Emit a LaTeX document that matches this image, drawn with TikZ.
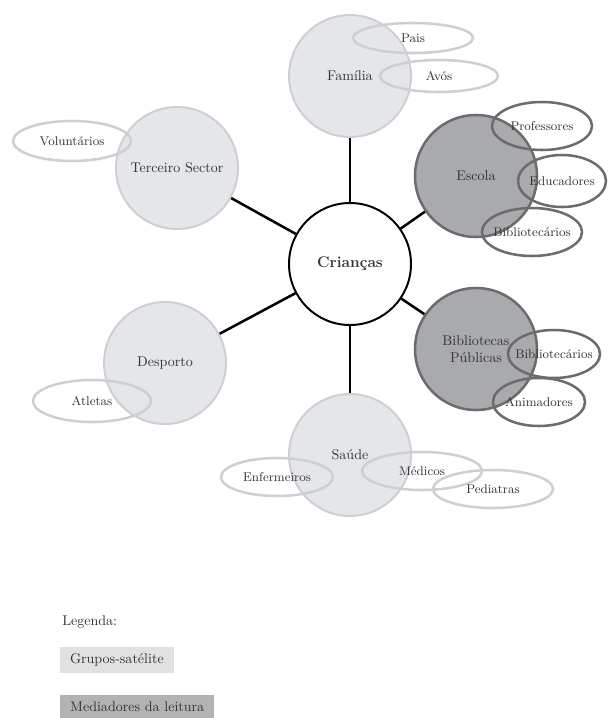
\documentclass[tikz,border=0pt]{standalone}
\usepackage{xcolor}
\usepackage{tikz}
\usetikzlibrary{shapes.geometric}
\definecolor{satfill}{HTML}{E4E6EA}
\definecolor{satline}{HTML}{CDCFD2}
\definecolor{medfill}{HTML}{A9AAAD}
\definecolor{medline}{HTML}{6C6C6C}
\definecolor{texto}{HTML}{333333}
\definecolor{legsat}{HTML}{E1E1E1}
\definecolor{legmed}{HTML}{B3B3B3}

\begin{document}
\begin{tikzpicture}[x=0.25mm, y=-0.25mm]
        \useasboundingbox (0,0) rectangle (607,718);
        \tikzstyle{every node}=[text=texto, align=center]
        \tikzstyle{satelite}=[circle, fill=satfill, draw=satline, line width=1.4pt, minimum size=3.05cm, inner sep=0pt]
        \tikzstyle{mediador}=[circle, fill=medfill, draw=medline, line width=1.8pt, minimum size=3.05cm, inner sep=0pt]
        \tikzstyle{satoval}=[ellipse, draw=satline, line width=1.8pt, inner xsep=-8pt, inner ysep=0pt, font=\small]
        \tikzstyle{medoval}=[ellipse, draw=medline, line width=1.8pt, inner xsep=-8pt, inner ysep=0pt, font=\small]
        \tikzstyle{ligacao}=[line width=1.8pt, black]
        % grupos em volta
        \node[satelite] (familia)    at (350, 76)  {Família};
        \node[satelite] (terceiro)   at (177, 168) {Terceiro Sector};
        \node[satelite] (desporto)   at (165, 363) {Desporto};
        \node[satelite] (saude)      at (350, 455) {Saúde};
        \node[mediador] (escola)     at (476, 176) {Escola};
        \node[mediador] (bibpublicas) at (476, 349) {Bibliotecas\\Públicas};
        \node[circle, draw=black, fill=white, line width=1.4pt, minimum size=3.05cm, inner sep=0pt,
              font=\fontsize{11}{13}\selectfont\bfseries] (criancas) at (350, 264) {Crianças};
        \draw[ligacao] (criancas) -- (familia);
        \draw[ligacao] (criancas) -- (terceiro);
        \draw[ligacao] (criancas) -- (desporto);
        \draw[ligacao] (criancas) -- (saude);
        \draw[ligacao] (criancas) -- (escola);
        \draw[ligacao] (criancas) -- (bibpublicas);
        % elipses
        \node[satoval, minimum width=3cm,    minimum height=0.75cm] (pais)        at (413, 38)  {Pais};
        \node[satoval, minimum width=2.95cm, minimum height=0.8cm]  (avos)        at (439, 76)  {Avós};
        \node[satoval, minimum width=2.95cm, minimum height=1cm]    (voluntarios) at (72, 141)  {Voluntários};
        \node[satoval, minimum width=2.95cm, minimum height=1.05cm] (atletas)     at (92, 401)  {Atletas};
        \node[satoval, minimum width=2.8cm,  minimum height=0.95cm] (enfermeiros) at (277, 477) {Enfermeiros};
        \node[satoval, minimum width=3cm,    minimum height=0.95cm] (medicos)     at (422, 471) {Médicos};
        \node[satoval, minimum width=3cm,    minimum height=0.95cm] (pediatras)   at (493, 489) {Pediatras};
        \node[medoval, minimum width=2.5cm,  minimum height=1.2cm]  (professores) at (542, 126) {Professores};
        \node[medoval, minimum width=2.2cm,  minimum height=1.3cm]  (educadores)  at (562, 181) {Educadores};
        \node[medoval, minimum width=2.5cm,  minimum height=1.2cm]  (bibliotecarios) at (532, 232) {Bibliotecários};
        \node[medoval, minimum width=2.3cm,  minimum height=1.2cm]  (bibliotecariosp) at (554, 354) {Bibliotecários};
        \node[medoval, minimum width=2.3cm,  minimum height=1.2cm]  (animadores)  at (539, 402) {Animadores};
        % legenda
        \node[anchor=west, inner sep=0pt] (legenda) at (62, 622) {Legenda:};
        \node[anchor=west, fill=legsat, inner xsep=7pt, inner ysep=0pt, minimum height=18pt] (grupos) at (60, 660) {Grupos-satélite};
        \node[anchor=west, fill=legmed, inner xsep=7pt, inner ysep=0pt, minimum height=17pt] (mediadores) at (60, 707) {Mediadores da leitura};
\end{tikzpicture}
\end{document}
